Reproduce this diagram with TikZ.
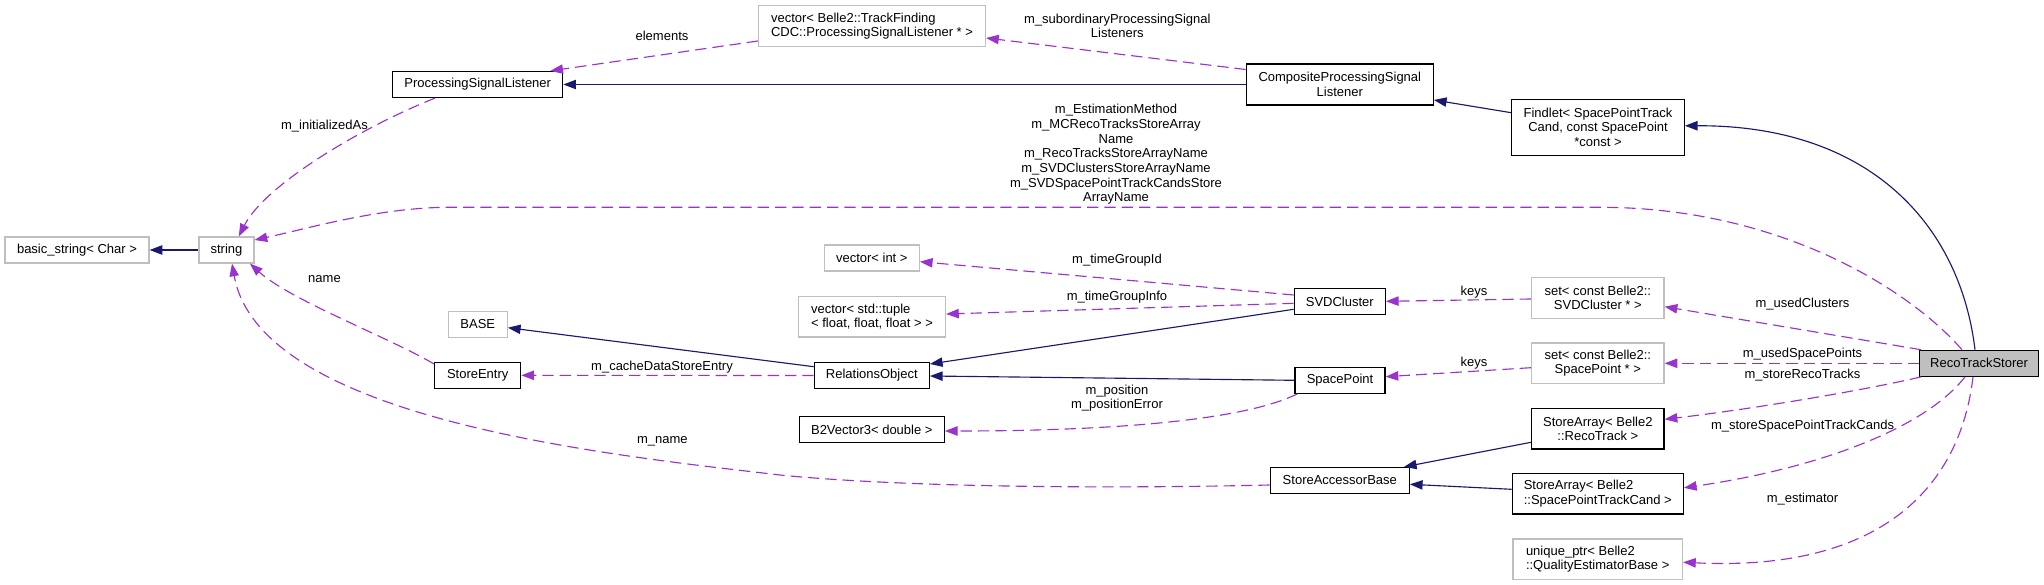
\documentclass[tikz,border=0pt]{standalone}
\usepackage{fontspec}
\setmainfont{Liberation Sans}
\usetikzlibrary{arrows.meta,calc}
\definecolor{inhc}{HTML}{191970}
\definecolor{usec}{HTML}{9A32CD}
\definecolor{grayb}{HTML}{BFBFBF}
\newcommand\fs{\fontsize{9.75}{11}\selectfont}
\tikzset{
  cls/.style={draw=black, line width=0.9pt, fill=white, inner sep=0pt, align=center, font=\fs},
  ucls/.style={cls, draw=grayb},
  sz/.style 2 args={minimum width=#1*0.75pt, minimum height=#2*0.75pt},
  inh/.style={draw=inhc, line width=0.85pt, -{Triangle[length=9.5pt,width=7pt]}},
  use/.style={draw=usec, line width=0.85pt, dash pattern=on 8.5pt off 4.5pt, -{Triangle[length=9.5pt,width=7pt]}},
  lbl/.style={inner sep=0pt, align=center, font=\fs},
}
\begin{document}
\begin{tikzpicture}[x=0.75pt,y=-0.75pt]
\fill[white] (0,0) rectangle (2044,585);
\useasboundingbox (0,0) rectangle (2044,585);
% nodes
\node[ucls, sz={144}{26}] (bs) at (77,250) {basic\_string< Char >};
\node[ucls, sz={55}{26}] (str) at (226.5,250) {string};
\node[cls, sz={170}{26}] (psl) at (477.7,84.5) {ProcessingSignalListener};
\node[ucls, sz={227}{41}, align=left] (vpsl) at (872,26) {vector< Belle2::TrackFinding\\CDC::ProcessingSignalListener * >};
\node[cls, sz={187}{41}] (cpsl) at (1339.8,84.5) {CompositeProcessingSignal\\Listener};
\node[cls, sz={172.5}{56}] (findlet) at (1598,127.3) {Findlet< SpacePointTrack\\Cand, const SpacePoint\\*const >};
\node[ucls, sz={95}{26}] (vint) at (871.8,258) {vector< int >};
\node[ucls, sz={147}{40.5}, align=left] (tuple) at (872,316.7) {vector< std::tuple\\< float, float, float > >};
\node[ucls, sz={59}{26}] (base) at (477.8,324.5) {BASE};
\node[cls, sz={86}{26}] (se) at (477.7,375.3) {StoreEntry};
\node[cls, sz={115}{26}] (ro) at (871.8,375.5) {RelationsObject};
\node[cls, sz={145}{26}] (b2) at (871.8,429.8) {B2Vector3< double >};
\node[cls, sz={91}{26}] (svd) at (1339.8,301.8) {SVDCluster};
\node[cls, sz={90}{26}] (sp) at (1340,380.3) {SpacePoint};
\node[cls, sz={139}{26}] (sab) at (1339.8,480.5) {StoreAccessorBase};
\node[ucls, sz={132.5}{40.5}] (setsvd) at (1597.8,298) {set< const Belle2::\\SVDCluster * >};
\node[ucls, sz={132.5}{40.5}] (setsp) at (1597.8,363.3) {set< const Belle2::\\SpacePoint * >};
\node[cls, sz={132.5}{40.5}] (sarT) at (1597.8,428.8) {StoreArray< Belle2\\::RecoTrack >};
\node[cls, sz={171}{40.5}, align=left] (sarC) at (1597.8,493.8) {StoreArray< Belle2\\::SpacePointTrackCand >};
\node[ucls, sz={169.5}{40.5}, align=left] (uptr) at (1597.7,559.2) {unique\_ptr< Belle2\\::QualityEstimatorBase >};
\node[cls, sz={119}{26}, fill=grayb] (rts) at (1979,363.3) {RecoTrackStorer};
% inheritance edges
\draw[inh] (str.west) -- (bs.east);
\draw[inh] (cpsl.west) -- (psl.east);
\draw[inh] ($(findlet.west)+(0,-14.6)$) -- ($(cpsl.east)+(0,15.5)$);
\draw[inh] ($(rts.north)+(-4,0)$) .. controls (1960,225) and (1870,125) .. ($(findlet.east)+(0,-1.5)$);
\draw[inh] ($(ro.west)+(0,-8.8)$) -- ($(base.east)+(0,3.2)$);
\draw[inh] ($(svd.west)+(0,7.5)$) -- ($(ro.east)+(0,-11.5)$);
\draw[inh] (sp.west) -- ($(ro.east)+(0,0.5)$);
\draw[inh] ($(sarT.west)+(0,13.5)$) -- ($(sab.north east)+(-6,0)$);
\draw[inh] ($(sarC.west)+(0,-4.5)$) -- ($(sab.east)+(0,3.8)$);
% usage edges
\draw[use] ($(cpsl.west)+(0,-15)$) -- ($(vpsl.east)+(0,12)$);
\draw[use] ($(vpsl.west)+(0,15)$) -- ($(psl.north east)+(-13,0)$);
\draw[use] ($(psl.south)+(-42.7,0)$) .. controls (360,128) and (265,185) .. ($(str.north)+(12.3,0)$);
\draw[use] ($(rts.north)+(-17,0)$) .. controls (1910,290) and (1780,207.3) .. (1600,207.3) -- (450,207.3) .. controls (380,207.3) and (310,228) .. ($(str.east)+(0,-10)$);
\draw[use] ($(se.west)+(0,-11.3)$) .. controls (390,338) and (290,300) .. ($(str.south)+(23.5,0)$);
\draw[use] ($(sab.west)+(0,4.5)$) .. controls (1100,489) and (900,487) .. (780,475) .. controls (610,455) and (260,420) .. ($(str.south)+(5.5,0)$);
\draw[use] (ro.west) -- (se.east);
\draw[use] ($(svd.west)+(0,-6.8)$) -- ($(vint.east)+(0,3.7)$);
\draw[use] ($(svd.west)+(0,1.5)$) -- ($(tuple.east)+(0,-2.7)$);
\draw[use] ($(sp.south west)+(3,0)$) .. controls (1240,422) and (1100,431) .. ($(b2.east)+(0,1.2)$);
\draw[use] ($(setsvd.west)+(0,1)$) -- ($(svd.east)+(0,-0.5)$);
\draw[use] ($(setsp.west)+(0,4.4)$) -- ($(sp.east)+(0,-3.6)$);
\draw[use] ($(rts.north west)+(2,0)$) -- ($(setsvd.east)+(0,8.7)$);
\draw[use] (rts.west) -- (setsp.east);
\draw[use] ($(rts.south west)+(2,0)$) .. controls (1870,389) and (1760,408) .. ($(sarT.east)+(0,-9.5)$);
\draw[use] ($(rts.south)+(-14,0)$) .. controls (1925,428) and (1820,468) .. ($(sarC.east)+(0,-6)$);
\draw[use] ($(rts.south)+(-6,0)$) .. controls (1960,488) and (1880,572) .. ($(uptr.east)+(0,3)$);
% labels
\node[lbl] (lsub) at (1117.3,26) {m\_subordinaryProcessingSignal\\Listeners};
\node[lbl] (lel) at (662,36) {elements};
\node[lbl] (linit) at (324.5,125.7) {m\_initializedAs};
\node[lbl] (lbig) at (1116,154.6) {m\_EstimationMethod\\m\_MCRecoTracksStoreArray\hspace*{33.75pt}\\Name\\m\_RecoTracksStoreArrayName\\m\_SVDClustersStoreArrayName\\m\_SVDSpacePointTrackCandsStore\\ArrayName};
\node[lbl] (ltgid) at (1117,260) {m\_timeGroupId};
\node[lbl] (ltgi) at (1117,297.3) {m\_timeGroupInfo};
\node[lbl] (lcache) at (662,366.7) {m\_cacheDataStoreEntry};
\node[lbl] (lpos) at (1117,398) {m\_position\\m\_positionError};
\node[lbl] (lname) at (324.5,279) {name};
\node[lbl] (lmname) at (662.3,441.7) {m\_name};
\node[lbl] (lk1) at (1474,292.3) {keys};
\node[lbl] (lk2) at (1474,362.7) {keys};
\node[lbl] (luc) at (1802.5,304.5) {m\_usedClusters};
\node[lbl] (lusp) at (1802.5,354.5) {m\_usedSpacePoints};
\node[lbl] (lsrt) at (1802.5,375) {m\_storeRecoTracks};
\node[lbl] (lsspt) at (1802.5,426.5) {m\_storeSpacePointTrackCands};
\node[lbl] (lest) at (1802.5,499.5) {m\_estimator};
\end{tikzpicture}
\end{document}
